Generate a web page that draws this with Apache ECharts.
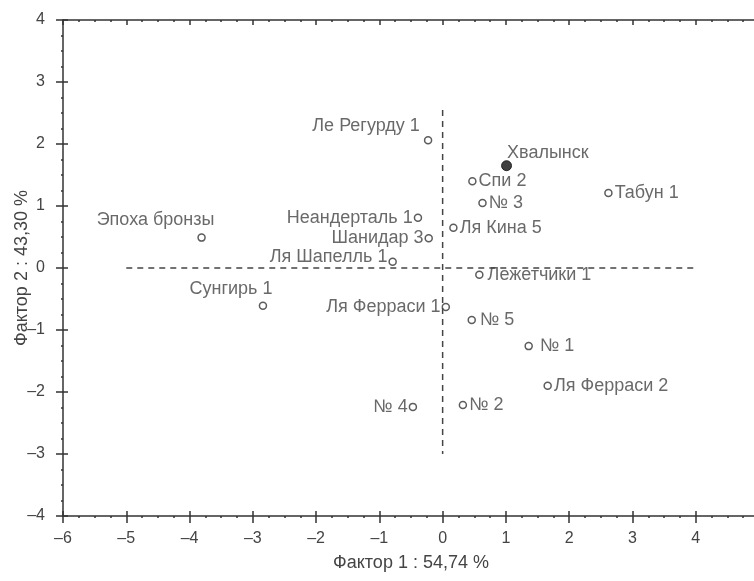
<!DOCTYPE html>
<html><head><meta charset="utf-8">
<script src="https://cdn.jsdelivr.net/npm/echarts@6/dist/echarts.min.js"></script>
<style>html,body{margin:0;padding:0;background:#fff}#c{width:754px;height:581px}</style>
</head><body><div id="c"></div>
<script>
const names = ['Ле Регурду 1','Спи 2','№ 3','Ля Кина 5','Табун 1','Неандерталь 1','Шанидар 3','Ля Шапелль 1','Эпоха бронзы','Сунгирь 1','Лежетчики 1','Ля Ферраси 1','№ 5','№ 1','Ля Ферраси 2','№ 2','№ 4'];
const xVals = [-0.23, 0.47, 0.63, 0.17, 2.62, -0.39, -0.22, -0.79, -3.81, -2.84, 0.58, 0.05, 0.46, 1.36, 1.66, 0.32, -0.47];
const yVals = [2.06, 1.40, 1.05, 0.65, 1.21, 0.81, 0.48, 0.10, 0.49, -0.61, -0.11, -0.63, -0.84, -1.26, -1.90, -2.21, -2.24];
const specialName = ['Хвалынск'];
const specialX = [1.01];
const specialY = [1.65];
const refH = [[-5, 0], [4, 0]];
const refV = [[0, 2.55], [0, -3]];
const xTicks = [-6,-5,-4,-3,-2,-1,0,1,2,3,4,5];
const yTicks = [-4,-3,-2,-1,0,1,2,3,4];

const txt = '#444';
const axisCol = '#333';
const font = 'Liberation Sans, Arial, sans-serif';
const FS = 18;

const labelCfg = {
  'Ле Регурду 1': {position:'left', distance:4, offset:[0,-14]},
  'Спи 2': {position:'right', distance:2},
  '№ 3': {position:'right', distance:2},
  'Ля Кина 5': {position:'right', distance:2},
  'Табун 1': {position:'right', distance:2},
  'Неандерталь 1': {position:'left', distance:1},
  'Шанидар 3': {position:'left', distance:1},
  'Ля Шапелль 1': {position:'left', distance:1, offset:[0,-5]},
  'Эпоха бронзы': {position:'top', distance:4, offset:[-46,0]},
  'Сунгирь 1': {position:'top', distance:4, offset:[-32,0]},
  'Лежетчики 1': {position:'right', distance:4},
  'Ля Ферраси 1': {position:'left', distance:1},
  '№ 5': {position:'right', distance:4},
  '№ 1': {position:'right', distance:7},
  'Ля Ферраси 2': {position:'right', distance:2},
  '№ 2': {position:'right', distance:2},
  '№ 4': {position:'left', distance:1}
};

const fmt = v => (v < 0 ? '–' + Math.abs(v) : String(v));

const pts = names.map((n,i) => ({
  name: n, value: [xVals[i], yVals[i]],
  label: Object.assign({show:true, formatter:'{b}'}, labelCfg[n])
}));
const sp = specialName.map((n,i) => ({
  name: n, value: [specialX[i], specialY[i]],
  label: {show:true, formatter:'{b}', position:'right', distance:0, offset:[-5,-13]}
}));

const baseX = {type:'value', min:xTicks[0], max:xTicks[xTicks.length-1], interval:1};
const baseY = {type:'value', min:yTicks[0], max:yTicks[yTicks.length-1], interval:1};
const tickLS = {color:axisCol, width:1.5};

const chart = echarts.init(document.getElementById('c'));
chart.setOption({
  animation:false,
  backgroundColor:'#fff',
  textStyle:{fontFamily:font},
  grid:{left:63, top:20, bottom:65, right:-5, containLabel:false, outerBoundsMode:'none'},
  xAxis:[
    Object.assign({}, baseX, {
      position:'bottom',
      name:'Фактор 1 : 54,74 %', nameLocation:'middle', nameGap:38, nameMoveOverlap:false,
      nameTextStyle:{color:txt, fontSize:FS, fontFamily:font},
      axisLine:{show:true, onZero:false, lineStyle:{color:axisCol, width:1.5}},
      axisTick:{show:true, length:7, lineStyle:tickLS},
      minorTick:{show:true, splitNumber:4, length:2, lineStyle:tickLS},
      axisLabel:{color:txt, fontSize:16, margin:15, formatter:fmt, fontFamily:font},
      splitLine:{show:false}
    }),
    Object.assign({}, baseX, {
      position:'bottom',
      axisLine:{show:false, onZero:false},
      axisTick:{show:true, inside:true, length:5, lineStyle:tickLS},
      axisLabel:{show:false}, splitLine:{show:false}
    }),
    Object.assign({}, baseX, {
      position:'top',
      axisLine:{show:true, onZero:false, lineStyle:{color:axisCol, width:1.5}},
      axisTick:{show:true, inside:true, length:5, lineStyle:tickLS},
      minorTick:{show:true, splitNumber:4, length:2, lineStyle:tickLS},
      axisLabel:{show:false}, splitLine:{show:false}
    })
  ],
  yAxis:[
    Object.assign({}, baseY, {
      position:'left',
      name:'Фактор 2 : 43,30 %', nameLocation:'middle', nameGap:32, nameRotate:90, nameMoveOverlap:false,
      nameTextStyle:{color:txt, fontSize:FS, fontFamily:font},
      axisLine:{show:true, onZero:false, lineStyle:{color:axisCol, width:1.5}},
      axisTick:{show:true, length:7, lineStyle:tickLS},
      minorTick:{show:true, splitNumber:4, length:2, lineStyle:tickLS},
      axisLabel:{color:txt, fontSize:16, margin:18, formatter:fmt, fontFamily:font},
      splitLine:{show:false}
    }),
    Object.assign({}, baseY, {
      position:'left',
      axisLine:{show:false, onZero:false},
      axisTick:{show:true, inside:true, length:5, lineStyle:tickLS},
      axisLabel:{show:false}, splitLine:{show:false}
    })
  ],
  series:[
    {type:'line', data:refH, symbol:'none', silent:true,
     lineStyle:{color:'#444', width:1.5, type:[6,5]}},
    {type:'line', data:refV, symbol:'none', silent:true,
     lineStyle:{color:'#444', width:1.5, type:[6,5]}},
    {type:'scatter', data:pts, symbol:'circle', symbolSize:7,
     itemStyle:{color:'#fff', borderColor:'#333', borderWidth:1.5},
     label:{color:txt, fontSize:FS, fontFamily:font}},
    {type:'scatter', data:sp, symbol:'circle', symbolSize:10,
     itemStyle:{color:'#111', borderColor:'#111', borderWidth:1},
     label:{color:txt, fontSize:FS, fontFamily:font}}
  ]
});
</script></body></html>
